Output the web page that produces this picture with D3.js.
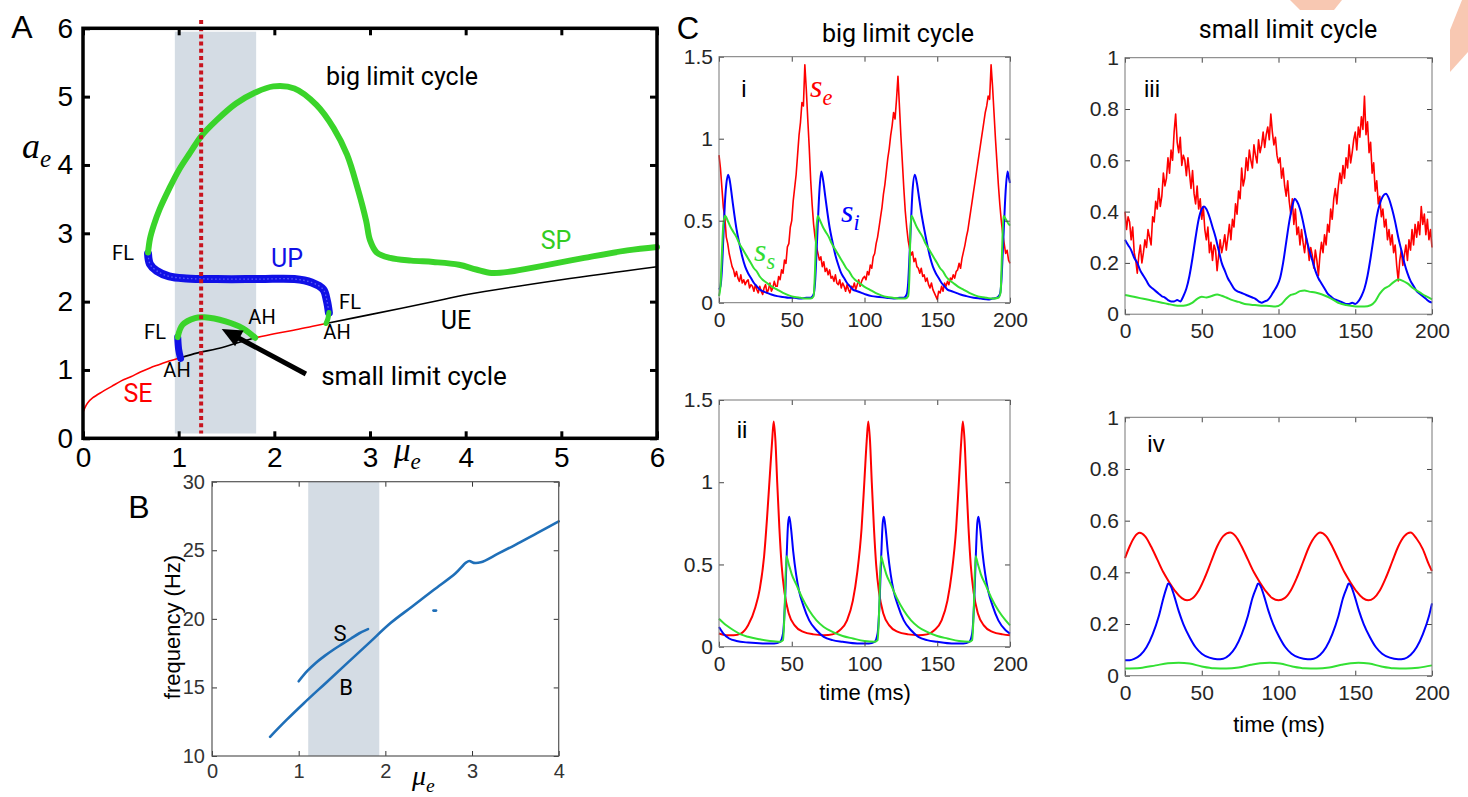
<!DOCTYPE html>
<html><head><meta charset="utf-8">
<script src="https://cdn.jsdelivr.net/npm/d3@7"></script>
<style>body{margin:0;background:#fff}svg{display:block}</style>
</head><body>
<svg id="c" width="1468" height="797"></svg>
<script>
// ---------------- DATA ----------------
// Panel A (bifurcation diagram, mu_e vs a_e)
const xTicksA = [0,1,2,3,4,5,6];
const yTicksA = [0,1,2,3,4,5,6];
const bandA = [0.96, 1.81];
const dotMuA = 1.235;
const seLow = [[0,0.38],[0.02,0.45],[0.05,0.52],[0.1,0.59],[0.2,0.68],[0.3,0.76],[0.4,0.84],[0.5,0.9],[0.6,0.97],[0.7,1.03],[0.8,1.08],[0.9,1.13],[1.02,1.18]];
const ueLow = [[1.02,1.18],[1.2,1.25],[1.4,1.31],[1.6,1.39],[1.8,1.47]];
const seMid = [[1.8,1.47],[2.0,1.53],[2.2,1.58],[2.4,1.64],[2.54,1.68]];
const ueHigh = [[2.54,1.68],[3,1.81],[3.73,2.02],[4,2.1],[5,2.32],[6,2.51]];
const bigCycle = [[0.68,2.72],[0.7,2.92],[0.74,3.12],[0.8,3.35],[0.9,3.65],[1.0,3.92],[1.12,4.18],[1.235,4.42],[1.4,4.66],[1.6,4.9],[1.8,5.06],[1.99,5.15],[2.21,5.12],[2.44,4.88],[2.62,4.54],[2.76,4.15],[2.87,3.66],[2.96,3.18],[3.0,2.9],[3.07,2.72],[3.21,2.64],[3.43,2.6],[3.66,2.58],[3.93,2.54],[4.11,2.47],[4.27,2.42],[4.47,2.44],[4.79,2.52],[5.24,2.64],[5.69,2.75],[6.0,2.8]];
const upBranch = [[0.68,2.7],[0.7,2.55],[0.77,2.45],[0.9,2.37],[1.08,2.34],[1.4,2.33],[1.85,2.33],[2.21,2.33],[2.39,2.28],[2.51,2.18],[2.55,2.01],[2.57,1.84]];
const upTail = [[2.57,1.84],[2.56,1.75],[2.54,1.68]];
const smallBlue = [[0.99,1.48],[1.0,1.3],[1.02,1.17]];
const smallGreen = [[0.99,1.48],[1.04,1.66],[1.17,1.76],[1.27,1.77],[1.49,1.71],[1.67,1.61],[1.8,1.47]];
const arrowA = [[2.33,0.94],[1.45,1.6]];

// Panel B (frequency vs mu_e)
const xTicksB = [0,1,2,3,4];
const yTicksB = [10,15,20,25,30];
const bandB = [1.11, 1.93];
const freqBig = [[0.67,11.4],[0.86,12.63],[1.06,13.85],[1.31,15.31],[1.56,16.77],[1.81,18.23],[2.06,19.69],[2.31,20.9],[2.56,22.12],[2.81,23.33],[2.93,24.1],[2.97,24.22],[3.02,24.08],[3.1,24.12],[3.3,24.75],[3.5,25.4],[3.75,26.25],[4.0,27.1]];
const freqSmall = [[1.0,15.45],[1.1,16.2],[1.2,16.8],[1.3,17.3],[1.4,17.75],[1.5,18.15],[1.6,18.55],[1.7,18.95],[1.8,19.25]];
const freqDot = [[2.555,20.6],[2.585,20.6]];

// Panel C time series (time ms, value)
const xTicksC = [0,50,100,150,200];
const yTicksBig = [0,0.5,1,1.5];
const yTicksSmall = [0,0.2,0.4,0.6,0.8,1];
// i : noisy big cycle, s_e sampled every 1 ms (t = 0..200)
const ciRed = [0.90,0.82,0.70,0.58,0.52,0.40,0.36,0.30,0.26,0.22,
 0.20,0.16,0.19,0.15,0.13,0.17,0.12,0.14,0.11,0.13,
 0.14,0.09,0.11,0.10,0.07,0.11,0.08,0.06,0.10,0.07,
 0.05,0.09,0.11,0.06,0.08,0.12,0.07,0.09,0.13,0.10,
 0.10,0.16,0.14,0.20,0.18,0.26,0.24,0.34,0.36,0.46,
 0.50,0.62,0.70,0.78,0.90,1.02,1.10,1.22,1.20,1.45,
 1.30,1.12,0.95,0.75,0.60,0.48,0.40,0.34,0.30,0.26,
 0.28,0.22,0.25,0.19,0.21,0.17,0.20,0.15,0.16,0.13,
 0.17,0.12,0.11,0.14,0.09,0.12,0.10,0.07,0.11,0.08,
 0.06,0.10,0.09,0.12,0.08,0.11,0.14,0.10,0.13,0.15,
 0.16,0.14,0.19,0.17,0.23,0.21,0.28,0.30,0.36,0.40,
 0.46,0.52,0.58,0.66,0.72,0.80,0.88,0.94,1.02,1.08,
 1.16,1.12,1.24,1.38,1.20,1.02,0.86,0.70,0.56,0.46,
 0.38,0.33,0.29,0.31,0.25,0.27,0.22,0.21,0.18,0.21,
 0.16,0.17,0.13,0.15,0.11,0.09,0.12,0.08,0.06,0.04,
 0.02,0.07,0.06,0.10,0.07,0.12,0.10,0.13,0.11,0.15,
 0.14,0.17,0.15,0.19,0.20,0.24,0.21,0.27,0.31,0.35,
 0.40,0.44,0.50,0.56,0.62,0.68,0.74,0.80,0.86,0.92,
 0.98,1.04,1.10,1.16,1.20,1.26,1.24,1.45,1.32,1.16,
 1.00,0.86,0.72,0.60,0.50,0.42,0.36,0.30,0.32,0.26,
 0.24];
const ciBlue = [[0,0.08],[1,0.1],[2,0.2],[3,0.4],[4,0.6],[5,0.72],[6.3,0.78],[7.5,0.74],[9,0.64],[10.5,0.54],[12,0.45],[14,0.36],[16,0.28],[18,0.22],[20,0.18],[22,0.15],[24,0.12],[26,0.1],[28,0.08],[30,0.07],[33,0.06],[36,0.05],[40,0.04],[44,0.035],[48,0.03],[52,0.03],[56,0.025],[60,0.03],[63,0.03],[65,0.05],[66,0.12],[67,0.3],[68,0.5],[69,0.68],[70.3,0.8],[71.5,0.75],[73,0.65],[74.5,0.55],[76,0.46],[78,0.37],[80,0.29],[82,0.23],[84,0.18],[86,0.15],[88,0.12],[90,0.1],[92,0.08],[95,0.07],[98,0.06],[101,0.05],[105,0.04],[110,0.035],[115,0.03],[120,0.025],[124,0.03],[127,0.03],[129,0.05],[130,0.12],[131,0.3],[132,0.5],[133,0.68],[134.6,0.78],[136,0.73],[137.5,0.64],[139,0.55],[141,0.45],[143,0.36],[145,0.28],[147,0.22],[149,0.18],[151,0.15],[153,0.12],[155,0.1],[157,0.08],[160,0.07],[163,0.06],[166,0.05],[170,0.04],[175,0.03],[180,0.025],[185,0.02],[188,0.025],[191,0.03],[193,0.05],[194,0.12],[195,0.3],[196,0.5],[197,0.68],[198.3,0.8],[199,0.77],[200,0.73]];
const ciGreen = [[0,0.04],[1,0.1],[2,0.3],[3,0.48],[4.2,0.53],[6,0.5],[8,0.46],[10,0.43],[12,0.4],[14,0.36],[16,0.33],[18,0.3],[20,0.27],[22,0.24],[24,0.21],[26,0.19],[28,0.16],[30,0.14],[33,0.12],[36,0.1],[40,0.08],[44,0.06],[48,0.045],[52,0.035],[56,0.03],[60,0.025],[63,0.025],[65,0.04],[66,0.2],[66.8,0.42],[67.8,0.53],[69.5,0.5],[71.5,0.46],[73.5,0.43],[75.5,0.4],[77.5,0.36],[79.5,0.33],[81.5,0.3],[83.5,0.27],[85.5,0.24],[87.5,0.21],[89.5,0.19],[91.5,0.16],[93.5,0.14],[96.5,0.12],[99.5,0.1],[103.5,0.08],[107.5,0.06],[111.5,0.045],[115.5,0.035],[119.5,0.03],[124,0.025],[128,0.025],[130,0.04],[131,0.2],[131.5,0.42],[132.2,0.53],[134,0.5],[136,0.46],[138,0.43],[140,0.4],[142,0.36],[144,0.33],[146,0.3],[148,0.27],[150,0.24],[152,0.21],[154,0.19],[156,0.16],[158,0.14],[161,0.12],[164,0.1],[168,0.08],[172,0.06],[176,0.045],[180,0.035],[184,0.03],[188,0.025],[192,0.03],[193.5,0.06],[194.5,0.3],[195.5,0.53],[197,0.51],[199,0.48],[200,0.47]];
// ii : deterministic big cycle
const ciiRed = [[0,0.08],[5,0.07],[10,0.07],[15,0.08],[20,0.13],[25,0.24],[28,0.35],[31,0.55],[33,0.78],[35,1.05],[36.5,1.25],[37.6,1.37],[38.8,1.25],[40,1.0],[41.5,0.72],[43,0.5],[45,0.33],[48,0.2],[52,0.13],[58,0.09],[65,0.075],[72,0.07],[78,0.075],[83,0.1],[88,0.16],[92,0.28],[95,0.45],[98,0.72],[100,1.02],[101.5,1.25],[102.6,1.37],[103.8,1.25],[105,1.0],[106.5,0.72],[108,0.5],[110,0.33],[113,0.2],[117,0.13],[123,0.09],[130,0.075],[137,0.07],[143,0.075],[148,0.1],[153,0.16],[157,0.28],[160,0.45],[163,0.72],[165,1.02],[166.5,1.25],[167.6,1.37],[168.8,1.25],[170,1.0],[171.5,0.72],[173,0.5],[175,0.33],[178,0.2],[182,0.13],[188,0.09],[195,0.075],[200,0.07]];
const ciiBlue = [[0,0.12],[3,0.08],[7,0.05],[12,0.035],[20,0.025],[30,0.02],[38,0.02],[42,0.03],[44,0.08],[45.5,0.3],[46.5,0.55],[47.5,0.75],[48.3,0.79],[49.5,0.72],[51,0.58],[53,0.44],[55,0.34],[58,0.25],[62,0.16],[67,0.1],[72,0.06],[78,0.04],[85,0.03],[95,0.02],[103,0.02],[107,0.03],[109,0.08],[110.5,0.3],[111.5,0.55],[112.5,0.75],[113.3,0.79],[114.5,0.72],[116,0.58],[118,0.44],[120,0.34],[123,0.25],[127,0.16],[132,0.1],[137,0.06],[143,0.04],[150,0.03],[160,0.02],[168,0.02],[172,0.03],[174,0.08],[175.5,0.3],[176.5,0.55],[177.5,0.75],[178.3,0.79],[179.5,0.72],[181,0.58],[183,0.44],[185,0.34],[188,0.25],[192,0.16],[197,0.1],[200,0.08]];
const ciiGreen = [[0,0.17],[5,0.13],[10,0.1],[15,0.075],[20,0.06],[28,0.045],[35,0.035],[42,0.03],[44,0.04],[45,0.2],[46.3,0.55],[48,0.5],[50,0.44],[53,0.38],[57,0.3],[62,0.22],[67,0.16],[72,0.12],[78,0.09],[85,0.065],[92,0.05],[100,0.035],[107,0.03],[109,0.04],[110,0.2],[111.3,0.55],[113,0.5],[115,0.44],[118,0.38],[122,0.3],[127,0.22],[132,0.16],[137,0.12],[143,0.09],[150,0.065],[157,0.05],[165,0.035],[172,0.03],[174,0.04],[175,0.2],[176.3,0.55],[178,0.5],[180,0.44],[183,0.38],[187,0.3],[192,0.22],[197,0.16],[200,0.13]];
// iii : noisy small cycle, s_e sampled every 1 ms (t = 0..200)
const ciiiRed = [0.40,0.33,0.38,0.36,0.29,0.34,0.24,0.21,0.16,0.23,
 0.27,0.20,0.24,0.29,0.26,0.33,0.30,0.27,0.38,0.36,
 0.44,0.41,0.49,0.42,0.46,0.55,0.50,0.53,0.61,0.55,
 0.64,0.60,0.71,0.78,0.67,0.63,0.69,0.58,0.62,0.60,
 0.54,0.61,0.55,0.49,0.56,0.47,0.43,0.50,0.41,0.45,
 0.37,0.42,0.33,0.29,0.34,0.24,0.28,0.21,0.27,0.25,
 0.17,0.23,0.29,0.24,0.27,0.31,0.25,0.30,0.35,0.29,
 0.37,0.34,0.43,0.39,0.48,0.45,0.57,0.50,0.53,0.61,
 0.56,0.64,0.60,0.57,0.66,0.62,0.59,0.68,0.63,0.66,
 0.71,0.65,0.70,0.73,0.68,0.78,0.71,0.66,0.69,0.62,
 0.59,0.61,0.53,0.57,0.50,0.46,0.52,0.44,0.39,0.45,
 0.35,0.41,0.31,0.34,0.27,0.33,0.28,0.24,0.30,0.27,
 0.21,0.26,0.23,0.18,0.25,0.21,0.15,0.23,0.28,0.24,
 0.31,0.27,0.35,0.32,0.41,0.37,0.45,0.49,0.43,0.50,
 0.55,0.51,0.58,0.53,0.61,0.57,0.66,0.59,0.63,0.68,
 0.71,0.64,0.73,0.69,0.77,0.72,0.85,0.70,0.75,0.63,
 0.67,0.55,0.59,0.48,0.52,0.43,0.46,0.38,0.41,0.34,
 0.37,0.29,0.33,0.27,0.31,0.24,0.27,0.19,0.13,0.21,
 0.25,0.19,0.23,0.27,0.21,0.29,0.25,0.33,0.27,0.35,
 0.30,0.36,0.31,0.42,0.35,0.39,0.31,0.37,0.29,0.33,
 0.26];
const ciiiBlue = [[0,0.29],[2,0.27],[4,0.25],[6,0.22],[8,0.2],[10,0.17],[12,0.15],[14,0.13],[16,0.11],[18,0.1],[20,0.09],[22,0.08],[24,0.07],[26,0.065],[28,0.055],[30,0.05],[32,0.05],[34,0.055],[36,0.05],[38,0.07],[40,0.1],[42,0.15],[44,0.22],[46,0.3],[48,0.37],[50,0.41],[51.5,0.42],[53,0.41],[55,0.38],[57,0.34],[59,0.3],[61,0.25],[63,0.2],[65,0.17],[67,0.14],[69,0.12],[71,0.1],[73,0.09],[75,0.085],[77,0.08],[79,0.075],[81,0.07],[83,0.065],[85,0.06],[87,0.05],[89,0.045],[91,0.05],[93,0.055],[95,0.07],[97,0.09],[99,0.11],[101,0.14],[103,0.2],[105,0.28],[107,0.36],[109,0.42],[110.5,0.45],[112,0.44],[114,0.41],[116,0.36],[118,0.3],[120,0.25],[122,0.21],[124,0.17],[126,0.14],[128,0.12],[130,0.1],[132,0.08],[134,0.07],[136,0.06],[138,0.055],[140,0.05],[142,0.045],[144,0.04],[146,0.04],[148,0.045],[150,0.04],[152,0.05],[154,0.07],[156,0.1],[158,0.15],[160,0.22],[162,0.3],[164,0.38],[166,0.43],[168,0.46],[170,0.47],[172,0.45],[174,0.41],[176,0.36],[178,0.3],[180,0.25],[182,0.2],[184,0.16],[186,0.13],[188,0.11],[190,0.09],[192,0.08],[194,0.07],[196,0.06],[198,0.05],[200,0.045]];
const ciiiGreen = [[0,0.075],[4,0.07],[8,0.065],[12,0.06],[16,0.055],[20,0.05],[24,0.045],[28,0.04],[32,0.035],[36,0.033],[40,0.035],[44,0.045],[47,0.06],[50,0.068],[53,0.065],[56,0.07],[60,0.077],[63,0.072],[66,0.065],[70,0.055],[74,0.048],[78,0.04],[82,0.037],[86,0.035],[90,0.033],[94,0.032],[98,0.03],[102,0.04],[105,0.06],[108,0.075],[111,0.08],[114,0.09],[117,0.092],[120,0.088],[124,0.085],[128,0.078],[132,0.068],[136,0.055],[140,0.042],[144,0.036],[148,0.032],[152,0.03],[156,0.03],[160,0.035],[163,0.05],[166,0.08],[169,0.1],[172,0.11],[175,0.125],[178,0.135],[181,0.13],[184,0.12],[188,0.1],[192,0.085],[196,0.07],[200,0.058]];
// iv : deterministic small cycle
const civRed = [[0,0.455],[3,0.5],[6,0.535],[9.6,0.553],[13,0.54],[17,0.5],[21,0.45],[25,0.4],[29,0.36],[33,0.325],[37,0.3],[40.4,0.292],[44,0.3],[48,0.33],[52,0.38],[56,0.44],[60,0.5],[64,0.54],[68.5,0.554],[72,0.54],[76,0.5],[80,0.45],[84,0.4],[88,0.36],[92,0.325],[96,0.3],[100,0.292],[104,0.3],[108,0.33],[112,0.38],[116,0.44],[120,0.5],[124,0.54],[127.1,0.554],[131,0.54],[135,0.5],[139,0.45],[143,0.4],[147,0.36],[151,0.325],[155,0.3],[158.5,0.292],[162,0.3],[166,0.33],[170,0.38],[174,0.44],[178,0.5],[182,0.54],[186,0.554],[190,0.53],[194,0.49],[198,0.43],[200,0.405]];
const civBlue = [[0,0.06],[3,0.06],[6,0.065],[10,0.08],[14,0.11],[18,0.16],[22,0.23],[25,0.3],[27,0.34],[28.1,0.357],[29.5,0.35],[32,0.31],[35,0.25],[38,0.2],[42,0.15],[46,0.11],[50,0.085],[55,0.07],[60,0.064],[64,0.066],[68,0.08],[72,0.11],[76,0.16],[80,0.23],[83,0.3],[85.5,0.34],[86.7,0.357],[88,0.35],[90.5,0.31],[93.5,0.25],[96.5,0.2],[100.5,0.15],[104.5,0.11],[108.5,0.085],[113.5,0.07],[119,0.064],[123,0.066],[127,0.08],[131,0.11],[135,0.16],[139,0.23],[142,0.3],[144.5,0.34],[145.7,0.357],[147,0.35],[149.5,0.31],[152.5,0.25],[155.5,0.2],[159.5,0.15],[163.5,0.11],[167.5,0.085],[172.5,0.07],[178,0.064],[182,0.066],[186,0.08],[190,0.11],[194,0.16],[198,0.23],[200,0.28]];
const civGreen = [[0,0.028],[10,0.03],[20,0.04],[28,0.048],[35,0.05],[42,0.047],[50,0.036],[58,0.029],[66,0.028],[74,0.032],[82,0.042],[88,0.048],[94,0.05],[101,0.047],[109,0.036],[117,0.029],[125,0.028],[133,0.032],[141,0.042],[147,0.048],[152,0.05],[159,0.047],[167,0.036],[175,0.029],[183,0.028],[191,0.031],[200,0.04]];

// ---------------- DRAWING ----------------
const svg = d3.select("#c");
svg.append("rect").attr("width",1468).attr("height",797).attr("fill","#fff");
const SANS = "'Liberation Sans', Arial, sans-serif";
const UI = "Roboto, 'Open Sans', sans-serif";
const SERIF = "'Liberation Serif', 'DejaVu Serif', serif";
const RED="#ff0000", BLUE="#0000ff", GREEN="#33e033";
const AGREEN="#3ad42a", ABLUE="#1010e6";

// decorative salmon shapes at top right (cropped logo)
svg.append("polygon").attr("points","1290,0 1342,0 1334,10 1300,10").attr("fill","#f8c8b2");
svg.append("polygon").attr("points","1462,0 1468,0 1468,52 1450,72 1450,30").attr("fill","#f8c8b2");

function axesBox(g, x, y, xt, yt, o){
  const [x0,x1]=x.range(), [yb,ytop]=y.range();
  const fmt = d=>String(d);
  const style = sel=>{
    sel.attr("font-size",o.fs).attr("font-family",o.ff);
    sel.select(".domain").remove();
    sel.selectAll(".tick line").attr("stroke",o.tc).attr("stroke-width",o.tw);
    sel.selectAll(".tick text").attr("fill",o.lc);
  };
  g.append("g").attr("transform",`translate(0,${yb})`).call(d3.axisBottom(x).tickValues(xt).tickSize(-o.ts).tickPadding(o.px).tickFormat(fmt)).call(style);
  g.append("g").attr("transform",`translate(${x0},0)`).call(d3.axisLeft(y).tickValues(yt).tickSize(-o.ts).tickPadding(o.py).tickFormat(fmt)).call(style);
  g.append("g").attr("transform",`translate(0,${ytop})`).call(d3.axisTop(x).tickValues(xt).tickSize(-o.ts).tickFormat(()=>"")).call(style);
  g.append("g").attr("transform",`translate(${x1},0)`).call(d3.axisRight(y).tickValues(yt).tickSize(-o.ts).tickFormat(()=>"")).call(style);
  g.append("rect").attr("x",x0).attr("y",ytop).attr("width",x1-x0).attr("height",yb-ytop)
    .attr("fill","none").attr("stroke",o.bc).attr("stroke-width",o.bw);
}
function txt(g, s, x, y, o={}){
  return g.append("text").attr("x",x).attr("y",y).text(s)
    .attr("font-family",o.ff||UI).attr("font-size",o.fs||20).attr("fill",o.fill||"#000")
    .attr("text-anchor",o.anchor||"middle");
}
function mathLabel(g, base, sub, x, y, fs, fill, anchor){
  const t = g.append("text").attr("x",x).attr("y",y).attr("font-family",SERIF)
    .attr("font-style","italic").attr("font-size",fs).attr("fill",fill||"#000").attr("text-anchor",anchor||"start");
  t.append("tspan").text(base);
  t.append("tspan").attr("font-size",fs*0.7).attr("dy",fs*0.25).text(sub);
  return t;
}

// ===== Panel A =====
const xA = d3.scaleLinear().domain([0,6]).range([83,657]);
const yA = d3.scaleLinear().domain([0,6]).range([438.3,28.3]);
const gA = svg.append("g");
gA.append("rect").attr("x",xA(bandA[0])).attr("width",xA(bandA[1])-xA(bandA[0]))
  .attr("y",yA(5.95)).attr("height",yA(0.07)-yA(5.95)).attr("fill","#d4dce4");
const lineA = d3.line().x(d=>xA(d[0])).y(d=>yA(d[1])).curve(d3.curveCatmullRom.alpha(0.5));
const drawA = (data,color,w)=>gA.append("path").datum(data).attr("d",lineA).attr("fill","none")
  .attr("stroke",color).attr("stroke-width",w).attr("stroke-linecap","round").attr("stroke-linejoin","round");
drawA(seLow,RED,1.6); drawA(ueLow,"#000",1.6); drawA(seMid,RED,1.6); drawA(ueHigh,"#000",1.6);
drawA(upBranch,ABLUE,8);
gA.append("path").datum(upBranch).attr("d",lineA).attr("fill","none").attr("stroke","#5d5df5")
  .attr("stroke-width",1.3).attr("stroke-dasharray","1.5,2.5");
drawA(upTail,AGREEN,5);
drawA(bigCycle,AGREEN,6);
drawA(smallBlue,ABLUE,7);
drawA(smallGreen,AGREEN,6);
// arrow
{
  const [p0,p1]=arrowA.map(d=>[xA(d[0]),yA(d[1])]);
  const dx=p1[0]-p0[0], dy=p1[1]-p0[1], L=Math.hypot(dx,dy), ux=dx/L, uy=dy/L;
  const hl=20, hw=9;
  const bx=p1[0]-ux*hl, by=p1[1]-uy*hl;
  gA.append("line").attr("x1",p0[0]).attr("y1",p0[1]).attr("x2",bx+ux*2).attr("y2",by+uy*2)
    .attr("stroke","#000").attr("stroke-width",5);
  gA.append("polygon").attr("points",[[p1[0],p1[1]],[bx-uy*hw,by+ux*hw],[bx+uy*hw,by-ux*hw]].map(p=>p.join(",")).join(" "))
    .attr("fill","#000");
}
// dotted red line
gA.append("line").attr("x1",xA(dotMuA)).attr("x2",xA(dotMuA)).attr("y1",20).attr("y2",yA(0.07))
  .attr("stroke","#c8141e").attr("stroke-width",4).attr("stroke-dasharray","4,3.2");
axesBox(gA,xA,yA,xTicksA,yTicksA,{fs:28,ff:SANS,ts:7,tw:3,tc:"#000",lc:"#000",bc:"#000",bw:3.5,px:9,py:10});
txt(gA,"A",22,38,{ff:SANS,fs:32});
mathLabel(gA,"a","e",22,158,36,"#000");
mathLabel(gA,"μ","e",394,461,33,"#000");
txt(gA,"big limit cycle",402,85,{fs:25});
txt(gA,"small limit cycle",414,385,{fs:26});
txt(gA,"UP",287,267,{fs:25,fill:ABLUE});
txt(gA,"SP",556,249,{fs:25,fill:"#33cc22"});
txt(gA,"UE",456,329,{fs:25});
txt(gA,"SE",138,402,{fs:25,fill:RED});
txt(gA,"FL",123,260,{fs:20});
txt(gA,"FL",350,309,{fs:20});
txt(gA,"FL",155,339,{fs:20});
txt(gA,"AH",262,324,{fs:20});
txt(gA,"AH",337,339,{fs:20});
txt(gA,"AH",177,377,{fs:20});

// ===== Panel B =====
const xB = d3.scaleLinear().domain([0,4]).range([212,558.7]);
const yB = d3.scaleLinear().domain([10,30]).range([756,481.7]);
const gB = svg.append("g");
gB.append("rect").attr("x",xB(bandB[0])).attr("width",xB(bandB[1])-xB(bandB[0]))
  .attr("y",yB(30)).attr("height",yB(10)-yB(30)).attr("fill","#d4dce4");
const lineB = d3.line().x(d=>xB(d[0])).y(d=>yB(d[1])).curve(d3.curveCatmullRom.alpha(0.5));
[freqBig,freqSmall,freqDot].forEach(d=>gB.append("path").datum(d).attr("d",lineB).attr("fill","none")
  .attr("stroke","#1f6fb8").attr("stroke-width",2.6).attr("stroke-linecap","round"));
axesBox(gB,xB,yB,xTicksB,yTicksB,{fs:20,ff:SANS,ts:5,tw:1,tc:"#333",lc:"#333",bc:"#555",bw:1.2,px:8,py:7});
txt(gB,"B",139,518,{ff:SANS,fs:32});
txt(gB,"frequency (Hz)",0,0,{ff:SANS,fs:22}).attr("transform","translate(180,627) rotate(-90)");
mathLabel(gB,"μ","e",412,785,28,"#000");
txt(gB,"S",340,641,{fs:22});
txt(gB,"B",346,695,{fs:22});

// ===== Panel C =====
function panelC(x0,x1,ytop,yb,ymax,yt,series){
  const x = d3.scaleLinear().domain([0,200]).range([x0,x1]);
  const y = d3.scaleLinear().domain([0,ymax]).range([yb,ytop]);
  const g = svg.append("g");
  series.forEach(s=>{
    const line = d3.line().x(d=>x(d[0])).y(d=>y(d[1])).curve(s.smooth?d3.curveMonotoneX:d3.curveLinear);
    g.append("path").datum(s.data).attr("d",line).attr("fill","none").attr("stroke",s.color)
      .attr("stroke-width",s.w||2).attr("stroke-linejoin","round");
  });
  axesBox(g,x,y,xTicksC,yt,{fs:21,ff:SANS,ts:5,tw:1,tc:"#444",lc:"#262626",bc:"#777",bw:1,px:9,py:6});
  return g;
}
const idx = arr=>arr.map((v,i)=>[i,v]);
panelC(719,1010,56.7,302.7,1.5,yTicksBig,[
  {data:idx(ciRed),color:RED,w:1.6},
  {data:ciBlue,color:BLUE,smooth:true},
  {data:ciGreen,color:GREEN,smooth:true}]);
panelC(719,1010,400,646.7,1.5,yTicksBig,[
  {data:ciiRed,color:RED,smooth:true},
  {data:ciiBlue,color:BLUE,smooth:true},
  {data:ciiGreen,color:GREEN,smooth:true}]);
panelC(1125,1432,57.7,314.2,1,yTicksSmall,[
  {data:idx(ciiiRed),color:RED,w:1.6},
  {data:ciiiBlue,color:BLUE,smooth:true},
  {data:ciiiGreen,color:GREEN,smooth:true}]);
panelC(1125,1432,417.3,675.7,1,yTicksSmall,[
  {data:civRed,color:RED,smooth:true},
  {data:civBlue,color:BLUE,smooth:true},
  {data:civGreen,color:GREEN,smooth:true}]);

txt(svg,"C",688,39,{ff:SANS,fs:31});
txt(svg,"big limit cycle",898,42,{fs:25});
txt(svg,"small limit cycle",1288,38,{fs:25});
txt(svg,"i",744,97,{ff:SANS,fs:24});
txt(svg,"ii",742,438,{ff:SANS,fs:24});
txt(svg,"iii",1152,97,{ff:SANS,fs:24});
txt(svg,"iv",1156,452,{ff:SANS,fs:24});
mathLabel(svg,"s","e",810,97,32,RED);
mathLabel(svg,"s","i",841,222,32,BLUE);
mathLabel(svg,"s","s",754,261,32,"#33dd33");
txt(svg,"time (ms)",865,700,{ff:SANS,fs:22});
txt(svg,"time (ms)",1279,732,{ff:SANS,fs:22});
</script>
</body></html>
